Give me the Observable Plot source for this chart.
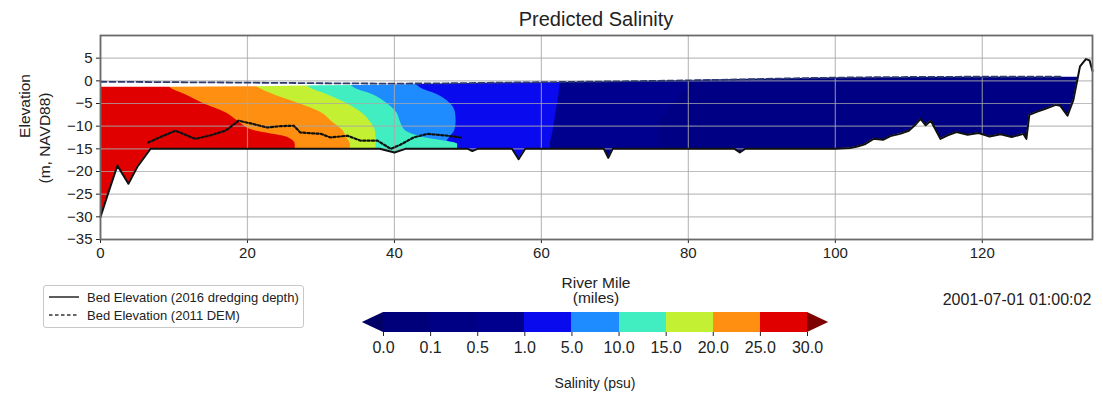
<!DOCTYPE html>
<html>
<head>
<meta charset="utf-8">
<script src="https://cdn.jsdelivr.net/npm/d3@7"></script>
<script src="https://cdn.jsdelivr.net/npm/@observablehq/plot@0.6"></script>
<style>
  body { margin: 0; background: #fff; font-family: "Liberation Sans", Arial, sans-serif; color: #222; }
  #wrap { position: relative; width: 1103px; height: 393px; overflow: hidden; background: #fff; }
  .t { position: absolute; white-space: nowrap; transform: translate(-50%, -50%); line-height: 1; }
  #main, #cbar { position: absolute; left: 0; }
  #main { top: 0; }
  #cbar { top: 300px; }
  #legend { position: absolute; left: 43px; top: 285px; width: 259px; height: 41px; border: 1px solid #c8c8c8; border-radius: 3px; background: #fff; }
</style>
</head>
<body>
<div id="wrap">
  <div id="main"></div>
  <div id="cbar"></div>
  <div id="legend"></div>
</div>
<script>
// ---------------- data ----------------
const chartTitle = "Predicted Salinity";
const yLabelLines = ["Elevation", "(m, NAVD88)"];
const xLabelLines = ["River Mile", "(miles)"];
const timeStamp = "2001-07-01 01:00:02";
const cbTitle = "Salinity (psu)";
const legendLabels = ["Bed Elevation (2016 dredging depth)", "Bed Elevation (2011 DEM)"];

const xDomain = [0, 135];
const yDomain = [-35, 10];
const xTicks = [0, 20, 40, 60, 80, 100, 120];
const yTicks = [5, 0, -5, -10, -15, -20, -25, -30, -35];

// bed elevation (2016 dredging depth)
const bedMile = [0,1,2.3,3.8,5,6.8,10,20,30,38,40,41.5,45,50,50.6,51.3,56,56.9,57.8,60,65,68.5,69.1,69.7,75,80,86.3,87,87.7,95,100,102,103,104,105.2,106.5,107.5,108.8,110,111,111.6,112.3,113,114.3,115.3,116.5,118,119.5,121,122.5,124,125.6,126,126.4,127.5,128.5,130,130.6,131.6,132.4,133.3,134.1,134.6,135];
const bedElev = [-30,-25,-18.7,-22.7,-19,-15,-15,-15,-15,-15,-15.8,-15,-15,-15,-15.5,-15,-15,-17.3,-15,-15,-15,-15,-17,-15,-15,-15,-15,-15.8,-15,-15,-15,-14.8,-14.5,-14,-12.8,-13,-12.2,-11.7,-11,-9.5,-8.4,-9.8,-8.8,-12.8,-12,-11.3,-11.9,-11.5,-12.3,-11.8,-12.4,-11.7,-12.8,-7.5,-6.8,-6.2,-5.3,-5.5,-7.7,-4.2,3.2,4.8,4.5,2.2];

// bed elevation (2011 DEM)
const demMile = [6.5,8,10.2,12.9,15,17,18.8,20.7,22.7,24.5,26.3,27.2,30,31.3,33.6,35.4,37.7,39.5,40.8,42.6,44.5,47.2,49];
const demElev = [-13.6,-12.5,-11,-12.8,-12,-11,-8.8,-9.5,-10.3,-10,-9.9,-11.4,-11.7,-12.5,-12.1,-13.2,-13.2,-15,-14.1,-12.5,-11.7,-12.1,-12.5];

// water level (dashed) and top of the salinity field
const wlMile = [0, 20, 40, 60, 80, 100, 120, 131];
const wlElev = [-0.2, -0.4, -0.6, -0.3, 0.1, 0.7, 0.9, 0.9];
const topMile = [0, 10, 20, 30, 40, 50, 60, 80, 100, 120, 135];
const topElev = [-1.4, -1.4, -1.3, -1.1, -0.9, -0.6, -0.4, 0.1, 0.6, 0.8, 0.8];

// salinity field: seaward extent (river mile) of each class at each elevation
const zoneElev = [2, -1.5, -3, -5, -7, -9, -11, -12.5, -14, -16, -35];
const sal01 = [135,135,135,135,135,135,135,135,135,135,135];
const sal05 = [80,80,79,78,77,76,76,76,76,76,76];
const sal1  = [62.8,62.5,62.4,62.2,62,61.8,61.6,61.4,61.2,61.2,61.2];
const sal5  = [42,43.5,45.8,47.6,48.3,48.4,48.2,47.5,47,47,47];
const sal10 = [33,34.5,37,39,40.3,40.8,41.5,44,48.6,48.6,48.6];
const sal15 = [27,28.5,30.8,33.5,35.5,36.7,37.4,37.5,37.5,37.5,37.5];
const sal20 = [19.5,21.5,23.5,27,30,31.5,33,33.5,34,34,34];
const sal25 = [8.5,9.5,11.5,14,17,18.8,21,25.5,26.5,26.5,26.5];

// colour bar
const cbLabels = ["0.0","0.1","0.5","1.0","5.0","10.0","15.0","20.0","25.0","30.0"];
const cbColors = ["#00007a","#000084","#00008e","#0a0aee","#1e8cff","#40eec2","#c4f034","#ff8f10","#e00000"];
const underColor = "#000066";
const overColor = "#7f0000";

// ---------------- build ----------------
const zones = [
  {ext: sal01, color: cbColors[1]},
  {ext: sal05, color: cbColors[2]},
  {ext: sal1,  color: cbColors[3]},
  {ext: sal5,  color: cbColors[4]},
  {ext: sal10, color: cbColors[5]},
  {ext: sal15, color: cbColors[6]},
  {ext: sal20, color: cbColors[7]},
  {ext: sal25, color: cbColors[8]}
];
const zIdx = d3.range(zoneElev.length);
const bedIdx = d3.range(bedMile.length);
const topIdx = d3.range(topMile.length);
const demIdx = d3.range(demMile.length);
const wlIdx = d3.range(wlMile.length);

const fontFam = "'Liberation Sans', Arial, sans-serif";

const main = Plot.plot({
  width: 1103,
  height: 260,
  marginLeft: 100,
  marginRight: 11,
  marginTop: 35,
  marginBottom: 21,
  style: {fontFamily: fontFam, fontSize: "15px", color: "#222", background: "transparent"},
  x: {domain: xDomain, ticks: xTicks, tickSize: 4, tickPadding: 4, label: null},
  y: {domain: yDomain, ticks: yTicks, tickSize: 4, tickPadding: 4, label: null},
  marks: [
    ...zones.map(z => Plot.areaX(zIdx, {y: i => zoneElev[i], x: i => z.ext[i], fill: z.color, curve: "monotone-y"})),
    Plot.areaY(bedIdx, {x: i => bedMile[i], y1: yDomain[0], y2: i => bedElev[i], fill: "white"}),
    Plot.areaY(topIdx, {x: i => topMile[i], y1: i => topElev[i], y2: yDomain[1], fill: "white", curve: "monotone-x"}),
    Plot.ruleX(xTicks, {stroke: "#a8a8a8", strokeOpacity: 0.75, strokeWidth: 1.2}),
    Plot.ruleY(yTicks, {stroke: "#a8a8a8", strokeOpacity: 0.75, strokeWidth: 1.2}),
    Plot.line(wlIdx, {x: i => wlMile[i], y: i => wlElev[i], stroke: "#2c3a6e", strokeWidth: 1.8, strokeDasharray: "6,3", curve: "monotone-x"}),
    Plot.line(demIdx, {x: i => demMile[i], y: i => demElev[i], stroke: "#111", strokeWidth: 2.2, strokeDasharray: "2.2,2.2"}),
    Plot.line(bedIdx, {x: i => bedMile[i], y: i => bedElev[i], stroke: "#111", strokeWidth: 2}),
    Plot.frame({stroke: "#6a6a6a", strokeWidth: 1.8})
  ]
});
document.getElementById("main").appendChild(main);

const arrowLen = 0.45;
const cbIdx = d3.range(cbColors.length);
const cbar = Plot.plot({
  width: 1103,
  height: 70,
  marginTop: 12,
  marginBottom: 38,
  marginLeft: 383,
  marginRight: 296,
  style: {fontFamily: fontFam, fontSize: "16px", color: "#222", background: "transparent"},
  color: {type: "identity"},
  x: {domain: [0, cbColors.length], ticks: d3.range(cbLabels.length), tickFormat: i => cbLabels[i], tickSize: 4, tickPadding: 5, label: null},
  y: {domain: [0, 1], axis: null},
  marks: [
    Plot.rect(cbIdx, {x1: i => i, x2: i => i + 1, y1: 0, y2: 1, fill: i => cbColors[i], shapeRendering: "crispEdges"}),
    Plot.areaY([0, 1], {x: d => d === 0 ? -arrowLen : 0, y1: d => d === 0 ? 0.5 : 0, y2: d => d === 0 ? 0.5 : 1, fill: underColor}),
    Plot.areaY([0, 1], {x: d => d === 0 ? cbColors.length : cbColors.length + arrowLen, y1: d => d === 0 ? 0 : 0.5, y2: d => d === 0 ? 1 : 0.5, fill: overColor})
  ]
});
document.getElementById("cbar").appendChild(cbar);

// legend
const lg = document.getElementById("legend");
lg.innerHTML = `<svg width="259" height="41" style="font-family:${fontFam}">
  <line x1="5" x2="35" y1="11" y2="11" stroke="#333" stroke-width="1.6"/>
  <text x="43" y="15.5" font-size="13" fill="#222">${legendLabels[0]}</text>
  <line x1="5" x2="35" y1="29" y2="29" stroke="#333" stroke-width="1.6" stroke-dasharray="3.5,2.5"/>
  <text x="43" y="33.5" font-size="13" fill="#222">${legendLabels[1]}</text>
</svg>`;

// texts
const wrap = document.getElementById("wrap");
function addText(txt, x, y, size, extra) {
  const d = document.createElement("div");
  d.className = "t";
  d.textContent = txt;
  d.style.left = x + "px";
  d.style.top = y + "px";
  d.style.fontSize = size + "px";
  if (extra) d.style.transform = extra;
  wrap.appendChild(d);
}
addText(chartTitle, 596, 19, 20);
addText(yLabelLines[0], 25, 106, 15.5, "translate(-50%,-50%) rotate(-90deg)");
addText(yLabelLines[1], 45, 138, 15.5, "translate(-50%,-50%) rotate(-90deg)");
addText(xLabelLines[0], 596, 283, 15.5);
addText(xLabelLines[1], 596, 298, 15.5);
addText(timeStamp, 1017, 300, 16);
addText(cbTitle, 595, 383, 14);
</script>
</body>
</html>
